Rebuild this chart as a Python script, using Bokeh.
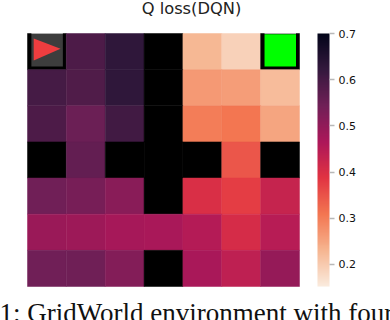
from bokeh.embed import file_html
from bokeh.resources import INLINE
from bokeh.plotting import figure
from bokeh.models import ColumnDataSource, LinearColorMapper, ColorBar, FixedTicker, Label, Range1d
from bokeh.transform import transform

NAN = float("nan")
TITLE = "Q loss(DQN)"
CAPTION = "1: GridWorld environment with four"
CBAR_TICKS = [0.2, 0.3, 0.4, 0.5, 0.6, 0.7]
VMIN, VMAX = 0.152, 0.7

row0 = [NAN, 0.590, 0.630, NAN, 0.225, 0.190, NAN]
row1 = [0.600, 0.585, 0.630, NAN, 0.265, 0.260, 0.220]
row2 = [0.590, 0.550, 0.605, NAN, 0.300, 0.310, 0.250]
row3 = [NAN, 0.560, NAN, NAN, NAN, 0.345, NAN]
row4 = [0.543, 0.535, 0.510, NAN, 0.400, 0.375, 0.430]
row5 = [0.490, 0.485, 0.475, 0.470, 0.455, 0.405, 0.450]
row6 = [0.543, 0.545, 0.520, NAN, 0.470, 0.440, 0.495]
rows = [row0, row1, row2, row3, row4, row5, row6]

ANCHORS = ["#faebdd", "#f6b48f", "#f37651", "#e13342", "#ad1759", "#701f57", "#35193e", "#03051a"]

W, H = 390, 320
GRID_L, GRID_T, GRID_W, GRID_H = 27, 33, 272, 253


def build_palette(anchors, n=256):
    def rgb(h):
        return [int(h[i:i + 2], 16) for i in (1, 3, 5)]
    out = []
    for k in range(n):
        t = k / (n - 1) * (len(anchors) - 1)
        i = min(int(t), len(anchors) - 2)
        a, b = rgb(anchors[i]), rgb(anchors[i + 1])
        f = t - i
        out.append("#%02x%02x%02x" % tuple(round(a[j] + (b[j] - a[j]) * f) for j in range(3)))
    return out


xs, ys, vals = [], [], []
for r, row in enumerate(rows):
    for c, v in enumerate(row):
        xs.append(c + 0.5)
        ys.append(r + 0.5)
        vals.append(v)
src = ColumnDataSource(dict(x=xs, y=ys, v=vals))
mapper = LinearColorMapper(palette=build_palette(ANCHORS), low=VMIN, high=VMAX, nan_color="#000000")

# the frame fills the canvas; cell coordinates stay 0..7 inside it
cw, ch = GRID_W / 7, GRID_H / 7
p = figure(width=W, height=H, output_backend="svg", toolbar_location=None,
           x_range=Range1d(-GRID_L / cw, (W - GRID_L) / cw),
           y_range=Range1d((H - GRID_T) / ch, -GRID_T / ch),
           min_border_left=0, min_border_top=0, min_border_bottom=0, min_border_right=0,
           x_axis_type=None, y_axis_type=None, outline_line_color=None)
p.grid.visible = False

p.rect("x", "y", 1, 1, source=src, fill_color=transform("v", mapper),
       line_color=transform("v", mapper), line_width=0.5)

# agent (cell 0,0) and goal (cell 6,0) icons
pad = 0.1
p.quad(left=[0 + pad], right=[1 - 0.09], top=[0.0], bottom=[0.91], fill_color="#3d3d3d", line_color=None)
p.quad(left=[6 + pad], right=[7 - 0.09], top=[0.02], bottom=[0.91], fill_color="#00ff00", line_color=None)
p.segment(x0=[0 + pad, 6 + pad], x1=[1 - 0.09, 7 - 0.09], y0=[0.0, 0.0], y1=[0.0, 0.0],
          line_color="#b0b0b0", line_width=1)
p.patch(x=[0.16, 0.16, 0.85], y=[0.14, 0.75, 0.42], fill_color="#ee3d3f", line_color=None)

cb = ColorBar(color_mapper=mapper, ticker=FixedTicker(ticks=CBAR_TICKS),
              width=12, height=253, padding=0, margin=0, location=(317, H - 286),
              major_tick_in=0, major_tick_out=5, major_tick_line_color="#b8b8b8", major_tick_line_width=1.5,
              bar_line_color=None, border_line_color=None, background_fill_color=None,
              major_label_text_font="DejaVu Sans", major_label_text_font_size="11px",
              major_label_text_color="#111111", label_standoff=4, title=None)
p.add_layout(cb)

p.add_layout(Label(x=191, y=H - 7.5, x_units="screen", y_units="screen", text=TITLE,
                   text_font="DejaVu Sans", text_font_size="16.3px", text_color="#222222",
                   text_align="center", text_baseline="middle"))
p.add_layout(Label(x=-1, y=7.5, x_units="screen", y_units="screen", text=CAPTION,
                   text_font="Liberation Serif", text_font_size="27px", text_color="#111111",
                   text_align="left", text_baseline="alphabetic"))

open("out.html", "w").write(file_html(p, INLINE))
